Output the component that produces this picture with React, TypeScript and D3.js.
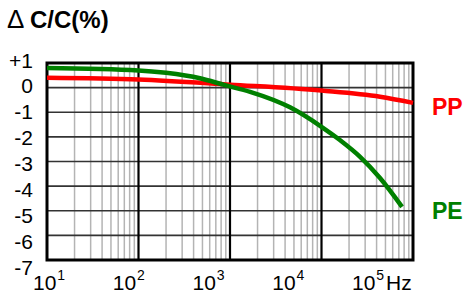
import React, { useEffect, useRef } from "react";
import * as d3 from "d3";

// frequency (Hz) and capacitance change (%)
const ppFreq = [10, 100, 1000, 10000, 43600, 100000];
const ppValue = [0.4, 0.33, 0.12, -0.12, -0.37, -0.62];

const peFreq = [10, 100, 200, 470, 880, 1660, 4530, 10000, 15900, 26400, 43600, 75900];
const peValue = [0.8, 0.7, 0.6, 0.38, 0.1, -0.17, -0.8, -1.59, -2.13, -2.81, -3.67, -4.84];

const yTicks = [1, 0, -1, -2, -3, -4, -5, -6, -7];
const yTickLabels = ["+1", "0", "-1", "-2", "-3", "-4", "-5", "-6", "-7"];
const xDecades = [10, 100, 1000, 10000, 100000];
const xExponents = ["1", "2", "3", "4", "5"];

const FONT = "'Liberation Sans', Arial, sans-serif";

export default function App() {
    const ref = useRef<SVGSVGElement>(null);

    useEffect(() => {
        const svg = d3.select(ref.current);
        svg.selectAll("*").remove();

        const left = 47, right = 413, top = 63, bottom = 260;

        const x = d3.scaleLog().domain([10, 100000]).range([left, right]);
        const y = d3.scaleLinear().domain([1, -7]).range([top, bottom]);
        // the tick labels in the original sit on their own spacing
        const xLab = d3.scaleLog().domain([10, 100000]).range([44, 363]);
        const yLab = d3.scaleLinear().domain([1, -7]).range([60, 267]);

        const g = svg.append("g");

        // minor vertical grid
        const minor: number[] = [];
        for (let d = 10; d < 100000; d *= 10) {
            for (let k = 2; k <= 9; k++) minor.push(d * k);
        }
        g.selectAll(".minor")
            .data(minor)
            .enter()
            .append("line")
            .attr("x1", (d) => x(d))
            .attr("x2", (d) => x(d))
            .attr("y1", top)
            .attr("y2", bottom)
            .attr("stroke", "#b4b4b4")
            .attr("stroke-width", 1.5);

        // horizontal grid
        g.selectAll(".hline")
            .data(yTicks)
            .enter()
            .append("line")
            .attr("x1", left)
            .attr("x2", right)
            .attr("y1", (d) => y(d))
            .attr("y2", (d) => y(d))
            .attr("stroke", "#333")
            .attr("stroke-width", 1.6);

        // decade lines
        g.selectAll(".major")
            .data(xDecades.slice(1, -1))
            .enter()
            .append("line")
            .attr("x1", (d) => x(d))
            .attr("x2", (d) => x(d))
            .attr("y1", top)
            .attr("y2", bottom)
            .attr("stroke", "#000")
            .attr("stroke-width", 2.2);

        // frame
        g.append("rect")
            .attr("x", left)
            .attr("y", top)
            .attr("width", right - left)
            .attr("height", bottom - top)
            .attr("fill", "none")
            .attr("stroke", "#000")
            .attr("stroke-width", 3);

        const line = d3.line<[number, number]>()
            .x((d) => x(d[0]))
            .y((d) => y(d[1]))
            .curve(d3.curveMonotoneX);

        g.append("path")
            .datum(ppFreq.map((f, i) => [f, ppValue[i]] as [number, number]))
            .attr("d", line)
            .attr("fill", "none")
            .attr("stroke", "#ff0000")
            .attr("stroke-width", 4.5);

        g.append("path")
            .datum(peFreq.map((f, i) => [f, peValue[i]] as [number, number]))
            .attr("d", line)
            .attr("fill", "none")
            .attr("stroke", "#008000")
            .attr("stroke-width", 4.5);

        // y labels
        g.selectAll(".ylab")
            .data(yTicks)
            .enter()
            .append("text")
            .attr("x", 33)
            .attr("y", (d) => yLab(d))
            .attr("dy", "0.36em")
            .attr("text-anchor", "end")
            .attr("font-family", FONT)
            .attr("font-size", 21)
            .text((d, i) => yTickLabels[i]);

        // x labels
        const xl = g.selectAll(".xlab")
            .data(xDecades)
            .enter()
            .append("text")
            .attr("x", (d) => xLab(d) - 11)
            .attr("y", 290)
            .attr("font-family", FONT)
            .attr("font-size", 21);
        xl.append("tspan").text("10");
        xl.append("tspan")
            .attr("dy", -10)
            .attr("dx", 1)
            .attr("font-size", 14)
            .text((d, i) => xExponents[i]);

        g.append("text")
            .attr("x", 386)
            .attr("y", 290)
            .attr("font-family", FONT)
            .attr("font-size", 21)
            .text("Hz");

        // title
        const title = g.append("text")
            .attr("x", 7)
            .attr("y", 28)
            .attr("font-family", FONT)
            .attr("font-size", 26);
        title.append("tspan").text("Δ");
        title.append("tspan")
            .attr("x", 30)
            .attr("font-weight", "bold")
            .attr("font-size", 24)
            .text("C/C(%)");

        // series names
        g.append("text")
            .attr("x", 432)
            .attr("y", 115)
            .attr("font-family", FONT)
            .attr("font-weight", "bold")
            .attr("font-size", 23)
            .attr("fill", "#ff0000")
            .text("PP");
        g.append("text")
            .attr("x", 432)
            .attr("y", 219)
            .attr("font-family", FONT)
            .attr("font-weight", "bold")
            .attr("font-size", 23)
            .attr("fill", "#008000")
            .text("PE");
    }, []);

    return (
        <svg
            ref={ref}
            width={465}
            height={295}
            style={{ position: "absolute", left: 0, top: 0, background: "#fff" }}
        />
    );
}
